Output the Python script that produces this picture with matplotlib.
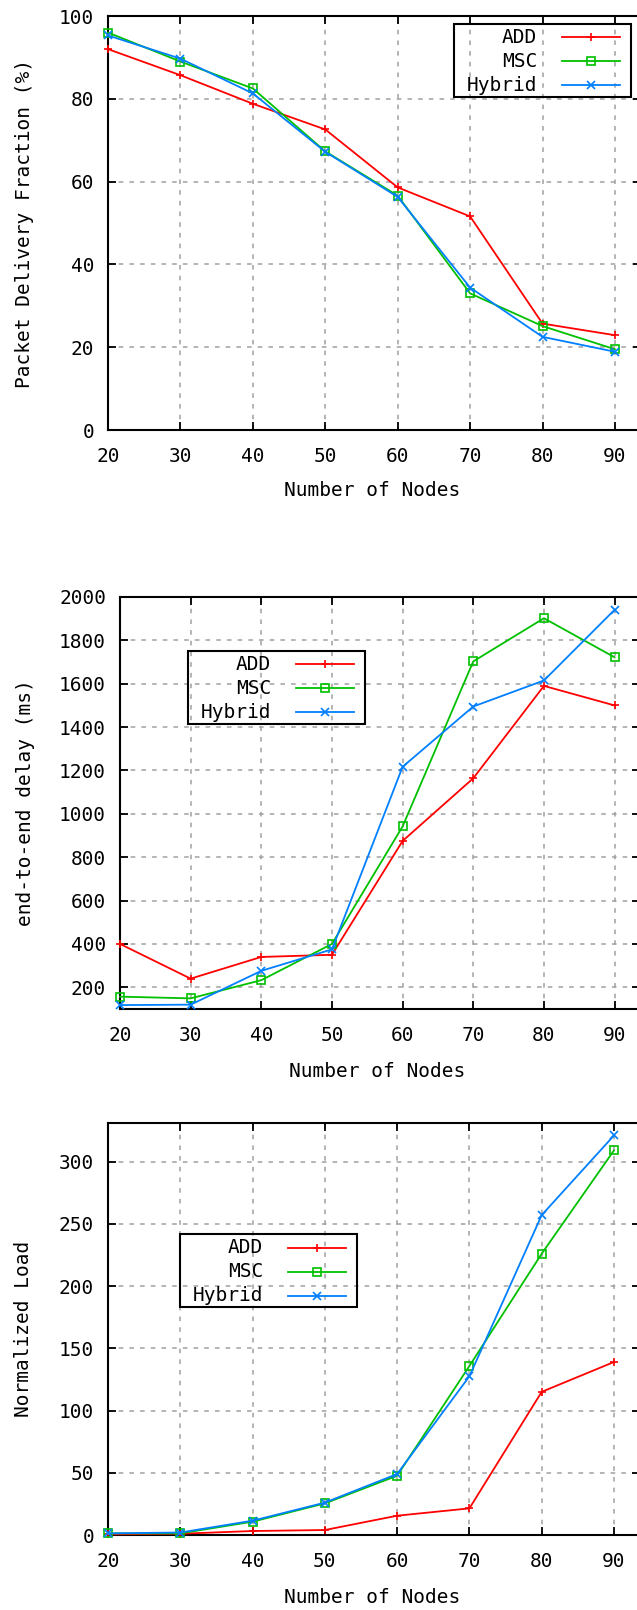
import numpy as np
import matplotlib
matplotlib.use("Agg")
import matplotlib.pyplot as plt
from matplotlib.lines import Line2D
from matplotlib.patches import Rectangle
import matplotlib.transforms as mtransforms

plt.rcParams['font.family'] = ['DejaVu Sans Mono', 'DejaVu Sans']

# data
nodes = [20, 30, 40, 50, 60, 70, 80, 90]
series_names = ["ADD", "MSC", "Hybrid"]

pdf_add = [92, 85.7, 78.8, 72.6, 58.6, 51.6, 25.7, 22.9]
pdf_msc = [96, 89, 82.5, 67.3, 56.6, 33, 25.1, 19.5]
pdf_hyb = [95.3, 89.7, 81.3, 67.2, 56.3, 34.4, 22.5, 18.9]

delay_add = [400, 240, 340, 350, 875, 1164, 1590, 1500]
delay_msc = [157, 149, 233, 400, 942, 1703, 1902, 1722]
delay_hyb = [118, 120, 276, 375, 1217, 1495, 1615, 1941]

load_add = [0.5, 1, 3.2, 4, 15.5, 21.4, 115, 139]
load_msc = [1.3, 1.3, 10.7, 25.4, 47.6, 135.8, 226, 309]
load_hyb = [1.3, 2, 11.5, 26, 49, 127.5, 257, 321]

colors = ["#ff0000", "#00c000", "#0080ff"]
markers = ["+", "s", "x"]

W, H = 637, 1610
FS = 14

fig = plt.figure(figsize=(W / 100, H / 100), dpi=100)


def px_axes(left, right, top, bottom):
    return fig.add_axes([left / W, 1 - bottom / H, (right - left) / W, (bottom - top) / H])


def draw_key(left, top):
    # gnuplot style key: right aligned label, then line sample with one point
    right = left + 177
    fig.add_artist(Rectangle((left / W, 1 - (top + 73) / H), (right - left) / W, 73 / H,
                             transform=fig.transFigure, fill=False, edgecolor='black',
                             linewidth=1.5, zorder=10))
    for i, name in enumerate(series_names):
        y = 1 - (top + 13.5 + 24 * i) / H
        fig.text((left + 83) / W, y, name, ha='right', va='center', fontsize=FS, zorder=11)
        fig.add_artist(Line2D([(left + 108) / W, (left + 166) / W], [y, y],
                              transform=fig.transFigure, color=colors[i], lw=1.3, zorder=11))
        fig.add_artist(Line2D([(left + 137) / W], [y], transform=fig.transFigure,
                              color=colors[i], marker=markers[i], markersize=6,
                              markerfacecolor='none', markeredgewidth=1.2, zorder=11))


def setup(ax, ys, ylim, yticks, ylabel, ylab_x, xlab_xy):
    for vals, c, m in zip(ys, colors, markers):
        ax.plot(nodes, vals, color=c, marker=m, lw=1.3, markersize=6,
                markerfacecolor='none', markeredgewidth=1.2, clip_on=False, zorder=3)
    ax.set_xlim(20, 93.6)
    ax.set_ylim(*ylim)
    ax.set_xticks(nodes)
    ax.set_yticks(yticks)
    ax.grid(True, color='#a0a0a0', linestyle=(0, (3, 4)), linewidth=1.1)
    ax.tick_params(direction='in', length=6, width=1.3, top=True, right=True,
                   labelsize=FS, color='black')
    ax.tick_params(axis='x', pad=12)
    ax.tick_params(axis='y', pad=10)
    for s in ax.spines.values():
        s.set_linewidth(1.5)
    ax.set_ylabel(ylabel, fontsize=FS)
    ax.set_xlabel("Number of Nodes", fontsize=FS)
    tr = mtransforms.blended_transform_factory(fig.transFigure, ax.transAxes)
    ax.yaxis.set_label_coords(ylab_x / W, 0.5, transform=tr)
    ax.xaxis.set_label_coords(xlab_xy[0] / W, 1 - xlab_xy[1] / H, transform=fig.transFigure)
    ax.xaxis.label.set_va('center')
    ax.yaxis.label.set_va('center')


ax1 = px_axes(108, 641, 16, 430)
setup(ax1, [pdf_add, pdf_msc, pdf_hyb], (0, 100), range(0, 101, 20),
      "Packet Delivery Fraction (%)", 25, (372, 491))
draw_key(454, 24)

ax2 = px_axes(120, 640, 597, 1009)
setup(ax2, [delay_add, delay_msc, delay_hyb], (100, 2000), range(200, 2001, 200),
      "end-to-end delay (ms)", 26, (377, 1071))
draw_key(188, 651)

ax3 = px_axes(108, 640, 1123, 1535)
setup(ax3, [load_add, load_msc, load_hyb], (0, 331), range(0, 301, 50),
      "Normalized Load", 24, (372, 1597))
draw_key(180, 1234)

fig.savefig("out.png", dpi=100)
